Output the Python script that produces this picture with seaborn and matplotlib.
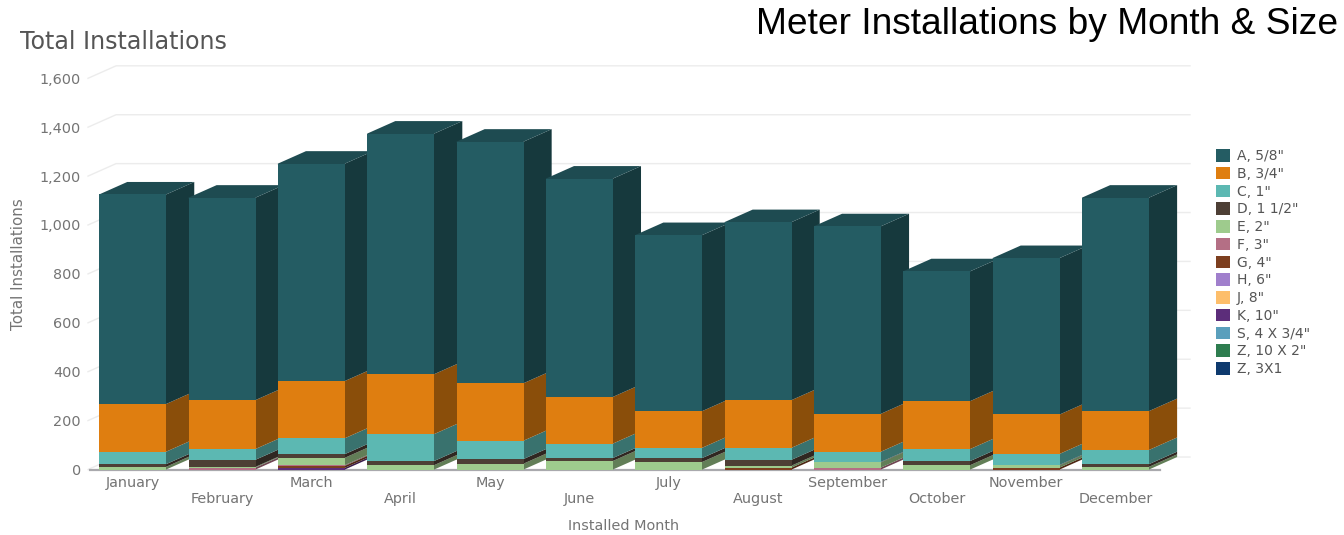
import pandas as pd
import matplotlib
matplotlib.use("Agg")
import matplotlib.pyplot as plt
import seaborn as sns
from matplotlib.colors import to_rgb
from matplotlib.patches import Patch, Polygon

# values
months = ["January", "February", "March", "April", "May", "June", "July",
          "August", "September", "October", "November", "December"]
sizes = ['A, 5/8"', 'B, 3/4"', 'C, 1"', 'D, 1 1/2"', 'E, 2"', 'F, 3"', 'G, 4"',
         'H, 6"', 'J, 8"', 'K, 10"', 'S, 4 X 3/4"', 'Z, 10 X 2"', 'Z, 3X1']
size_a = [857, 828, 889, 984, 988, 893, 720, 728, 767, 531, 640, 873]
size_b = [195, 200, 234, 245, 235, 191, 150, 195, 155, 196, 161, 159]
size_c = [51, 44, 65, 110, 75, 59, 42, 49, 42, 49, 45, 58]
size_d = [11, 29, 15, 17, 19, 12, 16, 24, 2, 17, 2, 11]
size_e = [11, 3, 30, 18, 24, 35, 31, 8, 21, 18, 9, 11]
size_f = [0, 8, 3, 0, 0, 0, 0, 0, 8, 0, 0, 0]
size_g = [0, 0, 8, 0, 0, 0, 0, 8, 0, 0, 8, 0]
size_h = [0] * 12
size_j = [0] * 12
size_k = [0, 0, 7, 0, 0, 0, 0, 0, 0, 0, 0, 0]
size_s = [0] * 12
size_z10 = [0] * 12
size_z3 = [0] * 12
all_sizes = [size_a, size_b, size_c, size_d, size_e, size_f, size_g,
             size_h, size_j, size_k, size_s, size_z10, size_z3]
palette = ["#245c63", "#df7e10", "#5cb8b2", "#4d3f35", "#9ecb8d", "#b46f85", "#7d3f1f",
           "#a07fcc", "#fdbe6b", "#5c2d7a", "#5a9fbc", "#2e7d4f", "#0e3a6e"]
y_ticks = [0, 200, 400, 600, 800, 1000, 1200, 1400, 1600]

records = []
for name, vals in zip(sizes, all_sizes):
    records.append(pd.DataFrame({"month": months, "size": name, "count": vals}))
df = pd.concat(records, ignore_index=True)

W, H = 1344, 535
fig = plt.figure(figsize=(W / 100, H / 100), dpi=100)
ax = fig.add_axes([88 / W, 1 - 469.5 / H, (1190 - 88) / W, (469.5 - 58) / H])

sns.histplot(data=df, x="month", weights="count", hue="size", hue_order=sizes,
             multiple="stack", palette=palette, shrink=0.75, alpha=1, linewidth=0,
             legend=False, ax=ax)

# fake 3d depth, in data units
depth_x = 0.314
depth_y = 51
seam = 0.012  # side and top faces run a little under the front face


def shade(color, f):
    return tuple(c * f for c in to_rgb(color))


bars = [p for p in ax.patches if p.get_height() > 0]
tops = {}
for p in bars:
    key = round(p.get_x(), 2)
    tops[key] = max(tops.get(key, 0), p.get_y() + p.get_height())

for p in bars:
    x0, w, y0, h = p.get_x(), p.get_width(), p.get_y(), p.get_height()
    col = p.get_facecolor()[:3]
    month_z = 3 + (x0 + 0.5)
    p.set_zorder(month_z + 0.5)
    p.set_edgecolor("none")
    x1 = x0 + w
    ax.add_patch(Polygon([(x1 - seam, y0), (x1, y0), (x1 + depth_x, y0 + depth_y),
                          (x1 + depth_x, y0 + h + depth_y), (x1, y0 + h), (x1 - seam, y0 + h)],
                         facecolor=shade(col, 0.62), edgecolor="none", zorder=month_z))
    if y0 + h == tops[round(x0, 2)]:
        ax.add_patch(Polygon([(x0, y0 + h - 4), (x0, y0 + h), (x0 + depth_x, y0 + h + depth_y),
                              (x1 + depth_x, y0 + h + depth_y), (x1, y0 + h), (x1, y0 + h - 4)],
                             facecolor=shade(col, 0.82), edgecolor="none", zorder=month_z))

# px -> data for the month axis: Jan centre at 132.7, 89.35 px a month
x_left = (88 - 132.7) / 89.35
x_right = (1190 - 132.7) / 89.35
ax.set_xlim(x_left, x_right)
ax.set_ylim(0, (469.5 - 58) / 0.2445)

# back wall grid with the little slanted stubs
for v in y_ticks:
    ax.plot([x_left, x_left + depth_x, x_right], [v, v + depth_y, v + depth_y],
            color="#ececec", linewidth=1.0, zorder=1, clip_on=False)
ax.plot([x_left + 0.02, 11.5], [0, 0], color="#a9a9ad", linewidth=1.6, zorder=2, clip_on=False)

for s in ax.spines.values():
    s.set_visible(False)
ax.patch.set_alpha(0)

ax.set_yticks(y_ticks)
ax.set_yticklabels([f"{v:,}" for v in y_ticks], fontsize=10.4, color="#747474")
ax.tick_params(axis="y", length=0, pad=5)
ax.set_xticks(range(len(months)))
ax.set_xticklabels(months, fontsize=10.4, color="#747474")
ax.tick_params(axis="x", length=0)
for i, t in enumerate(ax.get_xticklabels()):
    t.set_y(-0.004 if i % 2 == 0 else -0.043)
ax.set_xlabel("")
ax.set_ylabel("")

fig.text(19 / W, 1 - 264 / H, "Total Installations", rotation=90, fontsize=10.8,
         color="#747474", ha="center", va="center")
fig.text(624 / W, 1 - 526 / H, "Installed Month", fontsize=10.4, color="#747474",
         ha="center", va="center")
fig.text(20 / W, 1 - 42 / H, "Total Installations", fontsize=17.1, color="#555555",
         ha="left", va="center")
fig.text(1338 / W, 1 - 25 / H, "Meter Installations by Month & Size", fontsize=26.7,
         family="Liberation Sans", color="black", ha="right", va="center")

handles = [Patch(facecolor=c, edgecolor="none", label=n) for c, n in zip(palette, sizes)]
fig.legend(handles=handles, loc="upper left", bbox_to_anchor=(1212 / W, 1 - 145 / H),
           frameon=False, fontsize=10, labelcolor="#555555", handlelength=1.0,
           handleheight=1.0, handletextpad=0.5, labelspacing=0.27, borderpad=0, borderaxespad=0.3)

fig.savefig("out.png", dpi=100)
